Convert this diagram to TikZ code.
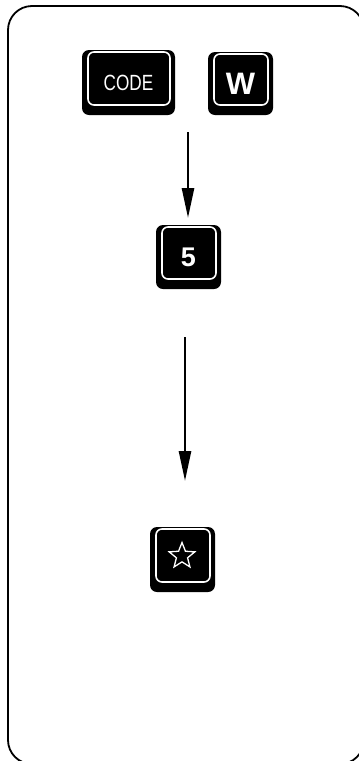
\documentclass[tikz,border=0pt]{standalone}
\usepackage{fontspec}
\setmainfont{Liberation Sans}
\usetikzlibrary{arrows.meta,shapes.geometric}
\tikzset{
  key/.style={fill=black, rounded corners=7pt, inner sep=0pt, text=white,
    minimum width=65pt, minimum height=64pt,
    path picture={\draw[white, line width=1.6pt, rounded corners=6pt]
      ([xshift=6pt,yshift=-2pt]path picture bounding box.north west) rectangle
      ([xshift=-5pt,yshift=10pt]path picture bounding box.south east);}},
  flow/.style={line width=2.6pt, -{Triangle[length=30pt,width=12pt]}},
  frame/.style={line width=1.8pt, rounded corners=24pt}
}
\begin{document}
\begin{tikzpicture}[x=1pt,y=-1pt]
\useasboundingbox (0,0) rectangle (359,761);
\draw[frame] (8,6) rectangle (364,764);
\node[key, minimum width=93pt, minimum height=65pt] (code) at (128.5,82.5)
  {\raisebox{-1pt}{\scalebox{0.78}[1]{\fontsize{22}{22}\selectfont CODE}}};
\node[key, minimum height=63pt] (w) at (240.5,83.5)
  {\raisebox{-1pt}{\fontsize{31}{31}\selectfont\bfseries W}};
\node[key] (five) at (188.5,257)
  {\raisebox{-6pt}{\fontsize{27}{27}\selectfont\bfseries 5}};
\node[key, minimum height=65pt] (fav) at (182.5,559.5) {};
\node[star, star points=5, star point ratio=2.3, draw=white, line width=1.3pt,
  minimum size=27pt, inner sep=0pt] (starglyph) at (182,556) {};
\coordinate (a1s) at (188,132);
\coordinate (a1e) at (188,218);
\coordinate (a2s) at (185,337);
\coordinate (a2e) at (185,481);
\draw[flow] (a1s) -- (a1e);
\draw[flow] (a2s) -- (a2e);
\end{tikzpicture}
\end{document}
